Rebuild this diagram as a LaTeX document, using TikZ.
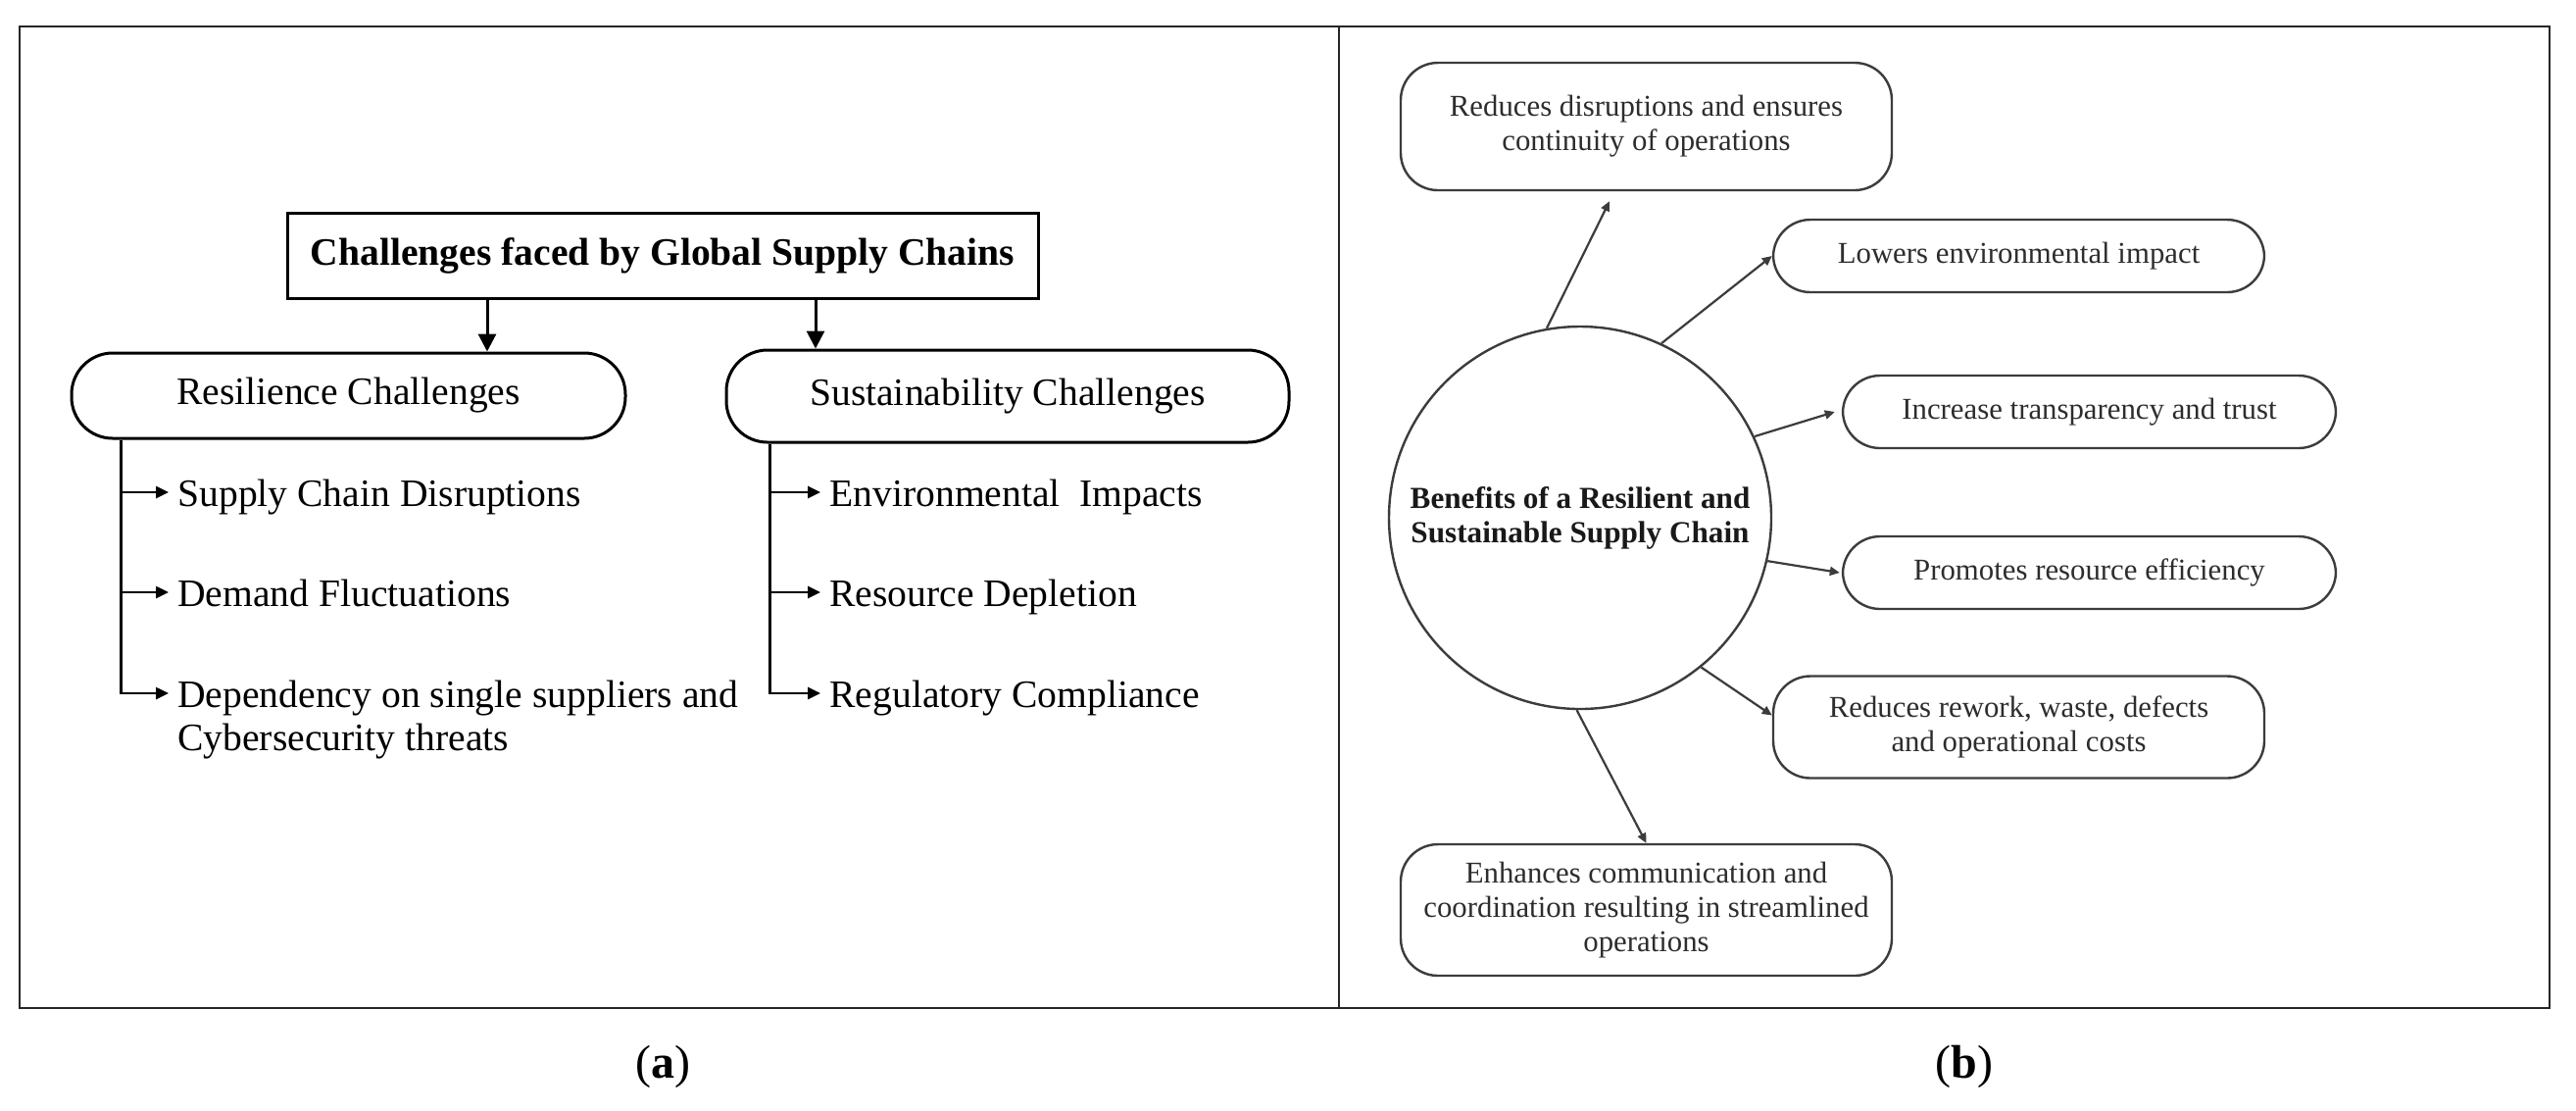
\documentclass[tikz,border=0pt]{standalone}
\usepackage{fontspec}
\setmainfont{Liberation Serif}
\usetikzlibrary{arrows.meta,calc}
\definecolor{bgray}{RGB}{60,60,60}
\definecolor{tgray}{RGB}{45,45,45}
\begin{document}
\begin{tikzpicture}[x=0.5pt,y=-0.5pt,
  frame/.style={draw=black!85, line width=1.4pt},
  titlebox/.style={draw, line width=1.5pt, minimum width=383pt, minimum height=43.5pt, inner sep=0pt, font=\fontsize{19.8}{22}\selectfont\bfseries},
  pill/.style={draw, line width=1.5pt, rounded corners=21pt, inner sep=0pt, font=\fontsize{19.8}{22}\selectfont},
  itemtext/.style={anchor=base west, inner sep=0pt, font=\fontsize{19.8}{22}\selectfont},
  bigarrow/.style={line width=1.5pt, -{Triangle[length=9pt,width=9pt]}},
  smallarrow/.style={line width=1.3pt, -{Triangle[length=6.5pt,width=6pt]}},
  benefit/.style={draw=bgray, line width=1.2pt, rounded corners=19pt, minimum width=250.5pt, inner sep=0pt, align=center, text=tgray, font=\fontsize{15.4}{17.5}\selectfont},
  hub/.style={circle, draw=bgray, line width=1.2pt, minimum size=195pt, inner sep=0pt, align=center, font=\fontsize{15.6}{17.5}\selectfont\bfseries, text=black!90},
  barrow/.style={draw=bgray, line width=1.1pt, -{Triangle[length=5pt,width=4.5pt]}},
  sublabel/.style={font=\fontsize{24}{26}\selectfont}
]
\useasboundingbox (0,0) rectangle (2628,1132);
\fill[white] (0,0) rectangle (2628,1132);
\draw[frame] (20,27) rectangle (2601,1028);
\draw[frame] (1366,27) -- (1366,1028);

% panel (a)
\node[titlebox] (title) at (676,260.5) {Challenges faced by Global Supply Chains};
\node[pill, minimum width=282.5pt, minimum height=43.5pt] (res) at (355.5,403.5) {Resilience Challenges};
\node[pill, minimum width=287pt, minimum height=47pt] (sus) at (1028,404) {Sustainability Challenges};

\draw[bigarrow] ([xshift=-89.5pt]title.south) -- ([xshift=-89.5pt]title.south |- res.north);
\draw[bigarrow] ([xshift=78pt]title.south) -- ([xshift=78pt]title.south |- sus.north);

\node[itemtext] (r1) at (181,516) {Supply Chain Disruptions};
\node[itemtext] (r2) at (181,618) {Demand Fluctuations};
\node[itemtext] (r3) at (181,721) {Dependency on single suppliers and};
\node[itemtext] (r3b) at (181,765) {Cybersecurity threats};

\node[itemtext] (s1) at (846,516) {Environmental\ \ Impacts};
\node[itemtext] (s2) at (846,618) {Resource Depletion};
\node[itemtext] (s3) at (846,721) {Regulatory Compliance};

\coordinate (rl) at ([xshift=26pt]res.south west);
\coordinate (sl) at ([xshift=23pt]sus.south west);
\foreach \n in {r1,r2,r3}{
  \coordinate (\n a) at ([yshift=7pt]\n.base west);
}
\foreach \n in {s1,s2,s3}{
  \coordinate (\n a) at ([yshift=7pt]\n.base west);
}
\draw[smallarrow] (rl) |- ([xshift=-4.5pt]r3a);
\draw[smallarrow] (r1a -| rl) -- ([xshift=-4.5pt]r1a);
\draw[smallarrow] (r2a -| rl) -- ([xshift=-4.5pt]r2a);
\draw[smallarrow] (sl) |- ([xshift=-4.5pt]s3a);
\draw[smallarrow] (s1a -| sl) -- ([xshift=-4.5pt]s1a);
\draw[smallarrow] (s2a -| sl) -- ([xshift=-4.5pt]s2a);

% panel (b)
\node[hub] (hub) at (1612,528) {Benefits of a Resilient and\\Sustainable Supply Chain};
\node[benefit, minimum height=65pt] (b1) at (1679.5,129) {Reduces disruptions and ensures\\continuity of operations};
\node[benefit, minimum height=37pt] (b2) at (2059.5,261) {Lowers environmental impact};
\node[benefit, minimum width=251.5pt, minimum height=37pt] (b3) at (2131.5,420) {Increase transparency and trust};
\node[benefit, minimum width=251.5pt, minimum height=37pt] (b4) at (2131.5,584) {Promotes resource efficiency};
\node[benefit, minimum height=52pt] (b5) at (2059.5,741.5) {Reduces rework, waste, defects\\and operational costs};
\node[benefit, minimum height=67pt] (b6) at (1679.5,928) {Enhances communication and\\coordination resulting in streamlined\\operations};

\draw[barrow] (hub.100) -- ([xshift=-18.75pt,yshift=-5pt]b1.south);
\draw[barrow] (hub.65) -- (b2.west);
\draw[barrow] (hub.25) -- ([xshift=-3.5pt]b3.west);
\draw[barrow] (hub.-13) -- ([xshift=-1pt]b4.west);
\draw[barrow] (hub.-51) -- ([yshift=6pt]b5.west);
\draw[barrow] (hub.-91) -- (b6.north);

\node[sublabel] (la) at (676,1088) {(\textbf{a})};
\node[sublabel] (lb) at (2004,1088) {(\textbf{b})};
\end{tikzpicture}
\end{document}
